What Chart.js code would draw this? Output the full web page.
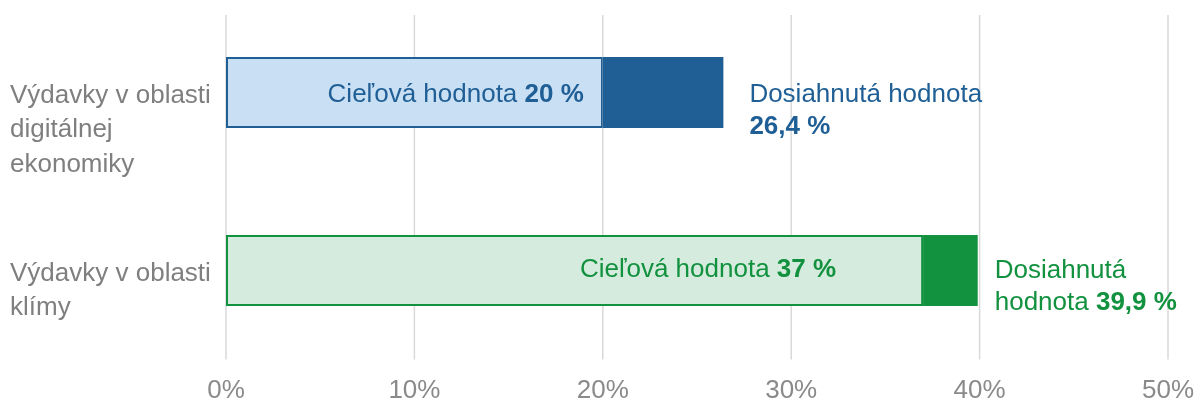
<!DOCTYPE html>
<html><head><meta charset="utf-8">
<script src="https://cdn.jsdelivr.net/npm/chart.js@4.4.1/dist/chart.umd.min.js"></script>
<style>html,body{margin:0;padding:0;background:#fff}</style>
</head><body>
<canvas id="c" width="1199" height="403"></canvas>
<script>
// ---- data ----
const categories = [["Výdavky v oblasti", "digitálnej", "ekonomiky"], ["Výdavky v oblasti", "klímy"]];
const targetValues = [20, 37];
const achievedValues = [26.4, 39.9];
const xTickValues = [0, 10, 20, 30, 40, 50];
const targetLabelPrefix = "Cieľová hodnota ";
// achieved label lines: segments [text, bold]; "{v}" is replaced by the value
const achievedLabelLines = [
  [[["Dosiahnutá hodnota", false]], [["{v}", true]]],
  [[["Dosiahnutá", false]], [["hodnota ", false], ["{v}", true]]]
];

// ---- style ----
const FONT = '"Liberation Sans", Arial, sans-serif';
const darkColors = ['#1F5F95', '#12913F'];
const lightColors = ['#C9DFF3', '#D5EBDD'];
const innerLabelInset = [19, 87];
const innerLabelDy = [2, -1];
const outerLabelGap = [26, 17];
const outerLabelDy = [2, 0];
const GRID_TOP = 15;

const fmt = v => String(v).replace('.', ',') + ' %';
const excessValues = achievedValues.map((a, i) => +(a - targetValues[i]).toFixed(2));

function drawSegments(ctx, segs, x, y, align, color) {
  const parts = segs.map(([t, b]) => {
    ctx.font = (b ? 'bold ' : '') + '26px ' + FONT;
    return { t, b, w: ctx.measureText(t).width };
  });
  const total = parts.reduce((s, p) => s + p.w, 0);
  let cx = align === 'right' ? x - total : x;
  ctx.fillStyle = color;
  ctx.textBaseline = 'middle';
  ctx.textAlign = 'left';
  parts.forEach(p => {
    ctx.font = (p.b ? 'bold ' : '') + '26px ' + FONT;
    ctx.fillText(p.t, cx, y);
    cx += p.w;
  });
}

const labelPlugin = {
  id: 'barLabels',
  beforeDatasetsDraw(chart) {
    const ctx = chart.ctx, xs = chart.scales.x;
    ctx.save();
    ctx.strokeStyle = '#D9D9D9';
    ctx.lineWidth = 1.5;
    xTickValues.forEach(v => {
      const px = xs.getPixelForValue(v);
      ctx.beginPath();
      ctx.moveTo(px, GRID_TOP);
      ctx.lineTo(px, chart.chartArea.bottom);
      ctx.stroke();
    });
    ctx.restore();
  },
  afterDatasetsDraw(chart) {
    const ctx = chart.ctx;
    const tMeta = chart.getDatasetMeta(0), aMeta = chart.getDatasetMeta(1);
    ctx.save();
    categories.forEach((c, i) => {
      const tBar = tMeta.data[i], aBar = aMeta.data[i];
      drawSegments(ctx, [[targetLabelPrefix, false], [fmt(targetValues[i]), true]],
        tBar.x - innerLabelInset[i], tBar.y + innerLabelDy[i], 'right', darkColors[i]);
      achievedLabelLines[i].forEach((line, li) => {
        const segs = line.map(([t, b]) => [t.replace('{v}', fmt(achievedValues[i])), b]);
        drawSegments(ctx, segs, aBar.x + outerLabelGap[i], aBar.y + outerLabelDy[i] + li * 32, 'left', darkColors[i]);
      });
    });
    ctx.restore();
  }
};

Chart.defaults.font.family = FONT;

function zeroPad(s) { s.paddingTop = 0; s.paddingBottom = 0; s.paddingLeft = 0; s.paddingRight = 0; }

new Chart(document.getElementById('c'), {
  type: 'bar',
  data: {
    labels: categories,
    datasets: [
      { data: targetValues, backgroundColor: lightColors, borderColor: darkColors, borderWidth: 2, borderSkipped: false },
      { data: excessValues, backgroundColor: darkColors, borderWidth: 0 }
    ]
  },
  options: {
    indexAxis: 'y',
    responsive: false,
    animation: false,
    devicePixelRatio: 1,
    categoryPercentage: 1,
    barPercentage: 0.4,
    layout: { autoPadding: false, padding: { left: 10, top: 3.5, right: 31, bottom: 0 } },
    plugins: { legend: { display: false }, tooltip: { enabled: false } },
    scales: {
      x: {
        stacked: true, min: 0, max: 50,
        grid: { display: false, drawTicks: false },
        border: { display: false },
        ticks: { stepSize: 10, callback: v => v + '%', color: '#8A8A8A', font: { size: 26 }, padding: 16 },
        afterFit(s) { s.height = 43.5; zeroPad(s); }
      },
      y: {
        stacked: true,
        grid: { display: false, drawTicks: false },
        border: { display: false },
        ticks: {
          crossAlign: 'far', color: '#7F7F7F', font: { size: 26, lineHeight: 1.32 },
          labelOffset: 20.5, padding: 0,
          callback: function (v, i) { const l = categories[i]; return l.length > 2 ? [''].concat(l) : l; }
        },
        afterFit(s) { s.width = 216; zeroPad(s); }
      }
    }
  },
  plugins: [labelPlugin]
});
</script>
</body></html>
